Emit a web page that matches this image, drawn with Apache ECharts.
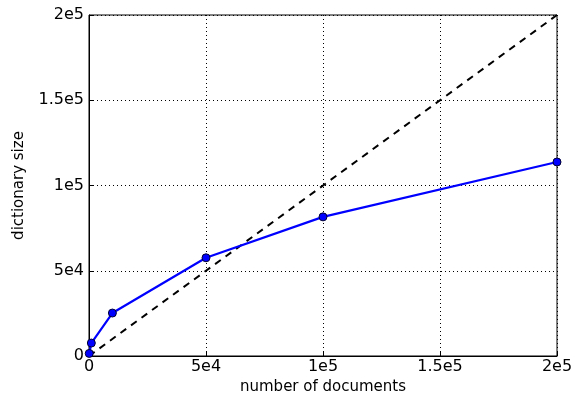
<!DOCTYPE html>
<html><head><meta charset="utf-8">
<script src="https://cdn.jsdelivr.net/npm/echarts@6/dist/echarts.min.js"></script>
<style>html,body{margin:0;padding:0;background:#fff}#c{width:575px;height:396px}</style>
</head><body><div id="c"></div>
<script>
const docs = [100, 1000, 10000, 50000, 100000, 200000];
const dictSize = [1500, 7600, 25200, 57600, 81600, 113800];
const refX = [0, 200000];
const refY = [0, 200000];
const tickLabels = {0:'0',50000:'5e4',100000:'1e5',150000:'1.5e5',200000:'2e5'};
const font = 'DejaVu Sans';
const chart = echarts.init(document.getElementById('c'), null, {renderer:'canvas'});
const axisCommon = {
  min: 0, max: 200000, interval: 50000,
  axisLine: {show: true, onZero: false, lineStyle: {color: '#000', width: 1}},
  axisTick: {show: true, inside: true, length: 5, lineStyle: {color: '#000'}},
  splitLine: {show: true, lineStyle: {color: '#000', type: [1, 3], width: 1}},
  axisLabel: {color: '#000', fontFamily: font, fontSize: 16, formatter: v => tickLabels[v]},
  nameTextStyle: {color: '#000', fontFamily: font, fontSize: 15}
};
chart.setOption({
  animation: false,
  grid: {left: 89, right: 18, top: 15, bottom: 40, show: true, borderColor: '#000', borderWidth: 1,
         containLabel: false, outerBoundsMode: 'none'},
  xAxis: Object.assign({}, axisCommon, {type: 'value', name: 'number of documents', nameLocation: 'middle', nameGap: 24,
    axisLabel: Object.assign({}, axisCommon.axisLabel, {margin: 3})}),
  yAxis: Object.assign({}, axisCommon, {type: 'value', name: 'dictionary size', nameLocation: 'middle', nameGap: 62,
    axisLabel: Object.assign({}, axisCommon.axisLabel, {margin: 5})}),
  series: [
    {type: 'line', data: refX.map((x, i) => [x, refY[i]]), symbol: 'none',
     lineStyle: {color: '#000', width: 2, type: [7, 6]}, z: 2},
    {type: 'line', data: docs.map((x, i) => [x, dictSize[i]]), symbol: 'circle', symbolSize: 8,
     lineStyle: {color: '#0000ff', width: 2.2}, itemStyle: {color: '#0000ff', borderColor: '#000033', borderWidth: 1}, z: 3}
  ]
});
</script></body></html>
